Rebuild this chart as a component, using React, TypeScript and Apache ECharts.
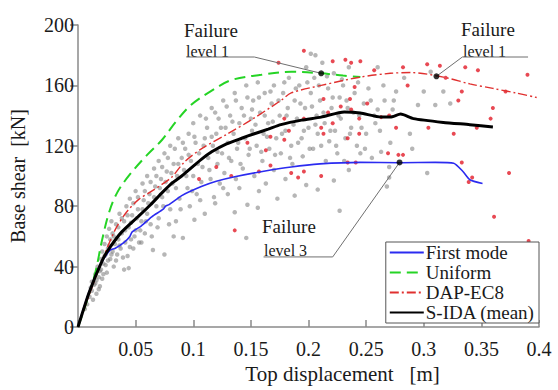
import React, { useEffect, useRef } from "react";
import * as echarts from "echarts";

const FONT = "Liberation Serif";

const xTicks = { min: 0, max: 0.4, interval: 0.05 };
const yTicks = { min: 0, max: 200, interval: 40 };

const firstMode: [number, number][] = [
  [0, 0], [0.009, 22], [0.02, 42], [0.028, 51], [0.032, 52], [0.04, 56], [0.045, 60], [0.047, 63],
  [0.055, 67], [0.064, 73], [0.074, 78], [0.076, 80], [0.079, 81], [0.09, 87], [0.107, 93],
  [0.12, 96.5], [0.136, 99.5], [0.16, 103], [0.185, 106], [0.21, 108], [0.245, 109],
  [0.28, 108.8], [0.31, 109], [0.326, 108.5], [0.334, 103], [0.34, 97.5], [0.351, 95],
];

const uniform: [number, number][] = [
  [0, 0], [0.008, 18], [0.015, 36], [0.021, 58], [0.027, 76], [0.034, 89], [0.045, 101],
  [0.06, 114], [0.073, 124], [0.085, 136], [0.098, 147], [0.115, 156], [0.133, 163.5],
  [0.159, 167], [0.185, 169], [0.211, 168], [0.23, 166.5], [0.245, 165.5],
];

const dapEc8: [number, number][] = [
  [0, 0], [0.01, 22], [0.021, 44], [0.032, 64], [0.042, 76], [0.052, 84], [0.066, 91],
  [0.081, 99], [0.092, 109], [0.107, 118], [0.13, 128], [0.15, 137], [0.176, 150],
  [0.185, 155], [0.211, 160], [0.245, 165.5], [0.271, 168], [0.289, 168.5], [0.317, 165.5],
  [0.34, 161], [0.36, 158], [0.38, 155], [0.398, 152],
];

const sIda: [number, number][] = [
  [0, 0], [0.0095, 22.5], [0.021, 44], [0.028, 53], [0.038, 63], [0.052, 73], [0.063, 81],
  [0.073, 89], [0.081, 95], [0.09, 100], [0.107, 111], [0.116, 116], [0.128, 121],
  [0.142, 125], [0.153, 128], [0.165, 131], [0.176, 134], [0.194, 137], [0.211, 139],
  [0.231, 142.4], [0.245, 141.7], [0.263, 139], [0.271, 139], [0.28, 141], [0.291, 138],
  [0.317, 135.5], [0.34, 134], [0.36, 132.5],
];

const failurePoints: [number, number][] = [
  [0.211, 168], [0.311, 166], [0.279, 109],
];

const leader1: [number, number][] = [[0.094, 178.8], [0.153, 178.8], [0.211, 168]];
const leader2: [number, number][] = [[0.3905, 178.8], [0.3335, 178.8], [0.311, 166]];
const leader3: [number, number][] = [[0.161, 46.4], [0.221, 46.4], [0.279, 109]];

const failureRed: [number, number][] = [
  [0.174, 175], [0.196, 183], [0.221, 176], [0.232, 177], [0.237, 175], [0.245, 176],
  [0.257, 170], [0.282, 172], [0.303, 174], [0.314, 173], [0.336, 172], [0.347, 170],
  [0.39, 167], [0.319, 165], [0.286, 160], [0.333, 156], [0.371, 156], [0.33, 150],
  [0.24, 159], [0.236, 151], [0.213, 151], [0.251, 148], [0.36, 145], [0.358, 138],
  [0.346, 132], [0.304, 132], [0.326, 128], [0.276, 132], [0.244, 138], [0.237, 144],
  [0.228, 146], [0.217, 142], [0.196, 138], [0.179, 138], [0.211, 132], [0.183, 130],
  [0.221, 135], [0.244, 128], [0.234, 125], [0.213, 128], [0.147, 122], [0.163, 117],
  [0.167, 126], [0.179, 124], [0.167, 107], [0.157, 103], [0.133, 100], [0.269, 115],
  [0.278, 114], [0.282, 114], [0.234, 109], [0.241, 109], [0.185, 102], [0.191, 99],
  [0.211, 100], [0.196, 103], [0.333, 109], [0.342, 99], [0.339, 96], [0.374, 102],
  [0.361, 73], [0.391, 57], [0.136, 64], [0.263, 139], [0.27, 140], [0.12, 106],
  [0.105, 98],
];

const idaGrey: [number, number][] = [
  [0.006, 12], [0.008, 15], [0.01, 20], [0.011, 26], [0.012, 24], [0.012, 30], [0.013, 18],
  [0.014, 28], [0.015, 35], [0.016, 22], [0.016, 31], [0.017, 40], [0.018, 33], [0.019, 27],
  [0.019, 37], [0.02, 45], [0.02, 38], [0.021, 50], [0.021, 32], [0.022, 42], [0.023, 55],
  [0.023, 47], [0.024, 48], [0.025, 60], [0.025, 36], [0.026, 52], [0.026, 44], [0.027, 65],
  [0.028, 45], [0.028, 58], [0.029, 70], [0.03, 50], [0.03, 62], [0.031, 40], [0.032, 55],
  [0.033, 68], [0.034, 48], [0.035, 58], [0.036, 75], [0.037, 52], [0.038, 62], [0.04, 38],
  [0.04, 70], [0.041, 56], [0.042, 80], [0.043, 47], [0.044, 66], [0.044, 39], [0.045, 85],
  [0.046, 58], [0.047, 74], [0.048, 52], [0.05, 90], [0.05, 64], [0.052, 78], [0.053, 56],
  [0.055, 70], [0.055, 56], [0.056, 95], [0.057, 84], [0.058, 62], [0.06, 100], [0.06, 75],
  [0.062, 88], [0.063, 68], [0.065, 51], [0.066, 105], [0.067, 93], [0.068, 80], [0.07, 72],
  [0.07, 110], [0.072, 98], [0.073, 86], [0.075, 48], [0.075, 115], [0.077, 103], [0.078, 90],
  [0.08, 78], [0.08, 120], [0.082, 95], [0.083, 60], [0.083, 108], [0.085, 70], [0.086, 100],
  [0.087, 125], [0.088, 85], [0.09, 112], [0.091, 59], [0.092, 104], [0.093, 118], [0.095, 92],
  [0.096, 128], [0.097, 80], [0.098, 110], [0.1, 100], [0.1, 135], [0.101, 71], [0.102, 122],
  [0.103, 88], [0.105, 115], [0.106, 140], [0.107, 96], [0.108, 106], [0.11, 125], [0.11, 75],
  [0.112, 132], [0.113, 112], [0.115, 98], [0.116, 145], [0.117, 120], [0.118, 86], [0.119, 82],
  [0.12, 128], [0.121, 108], [0.122, 138], [0.123, 95], [0.125, 115], [0.126, 150], [0.127, 102],
  [0.128, 132], [0.13, 122], [0.13, 88], [0.132, 140], [0.133, 110], [0.135, 128], [0.136, 155],
  [0.136, 76], [0.137, 98], [0.138, 118], [0.14, 135], [0.14, 92], [0.142, 145], [0.143, 105],
  [0.145, 125], [0.146, 59], [0.146, 160], [0.147, 81], [0.148, 114], [0.15, 138], [0.151, 130],
  [0.152, 150], [0.153, 100], [0.155, 120], [0.156, 79], [0.156, 162], [0.157, 90], [0.158, 142],
  [0.16, 110], [0.161, 128], [0.162, 155], [0.163, 95], [0.165, 135], [0.166, 118], [0.168, 148],
  [0.17, 104], [0.17, 160], [0.172, 125], [0.173, 85], [0.175, 140], [0.176, 115], [0.178, 155],
  [0.18, 130], [0.18, 98], [0.182, 145], [0.183, 165], [0.185, 120], [0.186, 108], [0.188, 150],
  [0.188, 87], [0.19, 138], [0.192, 160], [0.194, 125], [0.195, 113], [0.197, 145], [0.198, 94],
  [0.198, 172], [0.2, 132], [0.202, 181], [0.202, 155], [0.204, 118], [0.205, 165], [0.206, 180],
  [0.207, 140], [0.208, 91], [0.208, 128], [0.21, 150], [0.212, 175], [0.214, 135], [0.215, 110],
  [0.217, 158], [0.218, 123], [0.22, 145], [0.222, 97], [0.222, 168], [0.223, 130], [0.225, 115],
  [0.227, 77], [0.227, 152], [0.228, 138], [0.23, 160], [0.232, 125], [0.234, 145], [0.235, 172],
  [0.235, 104], [0.237, 132], [0.24, 155], [0.242, 120], [0.244, 140], [0.245, 115], [0.248, 148],
  [0.25, 128], [0.252, 158], [0.255, 112], [0.258, 135], [0.26, 172], [0.26, 144], [0.263, 116],
  [0.266, 150], [0.268, 93], [0.27, 106], [0.27, 99], [0.271, 122], [0.274, 150], [0.276, 156],
  [0.283, 165], [0.288, 128], [0.295, 147], [0.3, 156], [0.303, 102], [0.306, 169], [0.317, 156],
  [0.31, 147], [0.323, 148], [0.29, 118],
  [0.015, 29], [0.018, 25], [0.022, 35], [0.024, 41], [0.027, 54], [0.029, 48], [0.031, 60],
  [0.033, 44], [0.035, 66], [0.036, 54], [0.038, 72], [0.039, 46], [0.041, 64], [0.043, 74],
  [0.045, 53], [0.046, 69], [0.048, 82], [0.049, 60], [0.051, 72], [0.052, 86], [0.054, 64],
  [0.056, 78], [0.058, 90], [0.059, 70], [0.061, 82], [0.063, 96], [0.064, 60], [0.066, 86],
  [0.068, 100], [0.069, 66], [0.071, 92], [0.073, 106], [0.074, 80], [0.076, 96], [0.078, 112],
  [0.079, 68], [0.081, 102], [0.084, 118], [0.085, 92], [0.087, 108], [0.089, 78], [0.091, 122],
  [0.094, 100], [0.096, 114], [0.099, 90], [0.101, 126], [0.104, 108], [0.106, 84], [0.109, 120],
  [0.111, 138], [0.114, 104], [0.116, 126], [0.119, 142], [0.121, 116], [0.124, 132], [0.126, 92],
  [0.129, 146], [0.131, 112], [0.134, 136], [0.137, 150], [0.139, 122], [0.141, 108], [0.144, 140],
  [0.147, 152], [0.149, 118], [0.151, 144], [0.154, 134], [0.157, 152], [0.159, 116], [0.162, 140],
  [0.164, 126], [0.167, 156], [0.169, 136], [0.171, 114], [0.174, 150], [0.177, 128], [0.179, 162],
  [0.181, 140], [0.184, 112], [0.187, 134], [0.189, 158], [0.191, 122], [0.193, 148], [0.196, 130],
  [0.199, 162], [0.201, 118], [0.203, 146], [0.206, 134], [0.209, 160], [0.211, 120], [0.213, 142],
  [0.216, 166], [0.219, 130], [0.221, 152], [0.224, 120], [0.226, 140], [0.229, 164], [0.231, 110],
  [0.233, 150], [0.236, 128], [0.239, 142], [0.243, 162], [0.246, 132], [0.249, 118], [0.254, 150],
  [0.257, 140], [0.262, 130], [0.265, 160], [0.273, 144],
];

const LEGEND_NAMES = ["First mode", "Uniform", "DAP-EC8", "S-IDA (mean)"];

export default function App() {
  const ref = useRef<HTMLDivElement>(null);

  useEffect(() => {
    if (!ref.current) return;
    const chart = echarts.init(ref.current, null, { renderer: "svg" });
    const axisColor = "#8a8a8a";
    const textColor = "#1a1a1a";
    const leaderStyle = { color: "#6f6f6f", width: 1 };
    const txt = (text: string, left: number, top: number, size: number) => ({
      type: "text",
      left,
      top,
      style: { text, fontFamily: FONT, fontSize: size, fill: textColor },
    });
    chart.setOption({
      animation: false,
      backgroundColor: "#ffffff",
      grid: { left: 76, right: 19, top: 25, bottom: 63 },
      xAxis: {
        type: "value",
        min: xTicks.min,
        max: xTicks.max,
        interval: xTicks.interval,
        name: "Top displacement   [m]",
        nameLocation: "middle",
        nameGap: 33,
        nameTextStyle: { fontFamily: FONT, fontSize: 21, color: textColor, padding: [0, 0, 0, 68] },
        axisLine: { show: true, lineStyle: { color: axisColor, width: 1.5 } },
        axisTick: { show: true, inside: true, length: 7, lineStyle: { color: axisColor, width: 1.5 } },
        axisLabel: {
          fontFamily: FONT,
          fontSize: 20,
          color: textColor,
          margin: 12,
          formatter: (v: number) => (v === 0 ? "" : String(v)),
        },
        splitLine: { show: false },
      },
      yAxis: {
        type: "value",
        min: yTicks.min,
        max: yTicks.max,
        interval: yTicks.interval,
        name: "Base shear  [kN]",
        nameLocation: "middle",
        nameGap: 50,
        nameTextStyle: { fontFamily: FONT, fontSize: 20, color: textColor },
        axisLine: { show: true, lineStyle: { color: axisColor, width: 1.5 } },
        axisTick: { show: true, inside: false, length: 8, lineStyle: { color: axisColor, width: 1.5 } },
        axisLabel: { fontFamily: FONT, fontSize: 20, color: textColor, margin: 4 },
        splitLine: { show: false },
      },
      legend: {
        data: LEGEND_NAMES,
        orient: "vertical",
        right: 19,
        bottom: 67,
        itemWidth: 34,
        itemHeight: 14,
        itemGap: 1,
        padding: [1, 4, 1, 3],
        borderColor: "#555",
        borderWidth: 1,
        borderRadius: 0,
        backgroundColor: "#ffffff",
        itemStyle: { color: "transparent", borderWidth: 0, opacity: 0 },
        textStyle: { fontFamily: FONT, fontSize: 19, color: textColor, padding: [0, 0, 0, -3] },
      },
      series: [
        {
          name: "IDA",
          type: "scatter",
          data: idaGrey,
          symbol: "circle",
          symbolSize: 4.5,
          itemStyle: { color: "rgba(125,125,125,0.7)" },
          z: 1,
          silent: true,
        },
        {
          name: "Failure",
          type: "scatter",
          data: failureRed,
          symbol: "circle",
          symbolSize: 4,
          itemStyle: { color: "#e21c28" },
          z: 2,
          silent: true,
        },
        {
          name: "First mode",
          type: "line",
          data: firstMode,
          symbol: "none",
          smooth: 0.2,
          lineStyle: { color: "#2b2bf0", width: 1.6 },
          itemStyle: { color: "#2b2bf0" },
          z: 5,
        },
        {
          name: "Uniform",
          type: "line",
          data: uniform,
          symbol: "none",
          smooth: 0.35,
          lineStyle: { color: "#25d425", width: 2, type: [11, 6] },
          itemStyle: { color: "#25d425" },
          z: 5,
        },
        {
          name: "DAP-EC8",
          type: "line",
          data: dapEc8,
          symbol: "none",
          smooth: 0.3,
          lineStyle: { color: "#e0302f", width: 1.4, type: [9, 3, 2, 3] },
          itemStyle: { color: "#e0302f" },
          z: 5,
        },
        {
          name: "S-IDA (mean)",
          type: "line",
          data: sIda,
          symbol: "none",
          smooth: 0.2,
          lineStyle: { color: "#000000", width: 3 },
          itemStyle: { color: "#000000" },
          z: 6,
        },
        { name: "leader1", type: "line", data: leader1, symbol: "none", lineStyle: leaderStyle, z: 7, silent: true },
        { name: "leader2", type: "line", data: leader2, symbol: "none", lineStyle: leaderStyle, z: 7, silent: true },
        { name: "leader3", type: "line", data: leader3, symbol: "none", lineStyle: leaderStyle, z: 7, silent: true },
        {
          name: "Failure points",
          type: "scatter",
          data: failurePoints,
          symbolSize: 6,
          itemStyle: { color: "#000000" },
          z: 8,
          silent: true,
        },
      ],
      graphic: [
        txt("Failure", 184, 21, 19),
        txt("level 1", 186, 43, 16),
        txt("Failure", 461, 20, 19),
        txt("level 1", 463, 43, 16),
        txt("Failure", 262, 217, 19),
        txt("level 3", 264, 242, 16),
      ],
    });
    return () => chart.dispose();
  }, []);

  return (
    <div
      ref={ref}
      style={{ position: "fixed", left: 0, top: 0, width: 558, height: 390 }}
    />
  );
}
